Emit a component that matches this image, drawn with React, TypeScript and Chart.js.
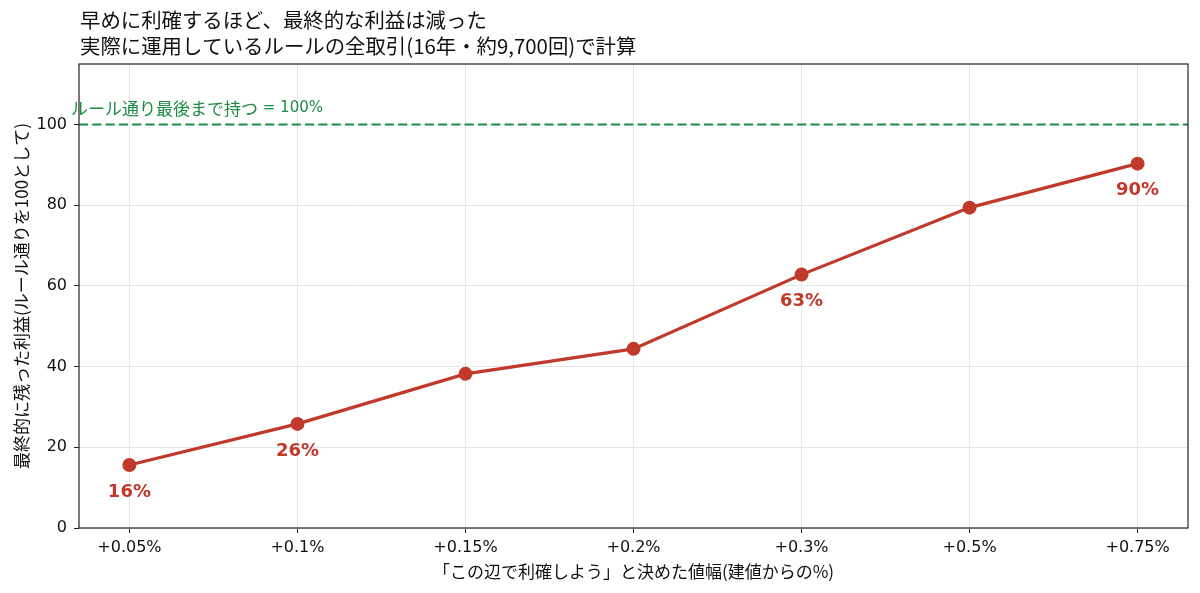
import React, { useEffect, useRef } from 'react';
import { Chart, registerables } from 'chart.js';

Chart.register(...registerables);

const FONT = '"DejaVu Sans", "Noto Sans CJK JP", sans-serif';
const CJK = '"Noto Sans CJK JP", "Noto Sans", sans-serif';

// データ
const takeProfitLabels = ['+0.05%', '+0.1%', '+0.15%', '+0.2%', '+0.3%', '+0.5%', '+0.75%'];
const remainingProfit = [15.6, 25.8, 38.2, 44.4, 62.8, 79.4, 90.3];
const labelledPoints = [0, 1, 4, 6];
const yTicks = [0, 20, 40, 60, 80, 100];
const baselineValue = 100;

const titleLines = [
  '早めに利確するほど、最終的な利益は減った',
  '実際に運用しているルールの全取引(16年・約9,700回)で計算',
];
const baselineText = ['ルール通り最後まで持つ', ' = 100%'];
const xTitle = '「この辺で利確しよう」と決めた値幅(建値からの%)';
const yTitle = '最終的に残った利益(ルール通りを100として)';

const RED = '#c0392b';
const GREEN = '#1e8b45';

const extras = {
  id: 'extras',
  beforeDatasetsDraw(chart: any) {
    const { ctx, chartArea, scales } = chart;
    const y = scales.y.getPixelForValue(baselineValue);
    ctx.save();
    ctx.strokeStyle = GREEN;
    ctx.lineWidth = 2.2;
    ctx.setLineDash([9, 4.3]);
    ctx.beginPath();
    ctx.moveTo(chartArea.left, y);
    ctx.lineTo(chartArea.right, y);
    ctx.stroke();
    ctx.setLineDash([]);
    // 基準線ラベル（和文と欧文でサイズが違う）
    ctx.fillStyle = GREEN;
    ctx.textAlign = 'left';
    ctx.textBaseline = 'middle';
    let x = chartArea.left - 8;
    ctx.font = `17px ${CJK}`;
    ctx.fillText(baselineText[0], x, y - 16);
    x += ctx.measureText(baselineText[0]).width;
    ctx.font = `15px ${FONT}`;
    ctx.fillText(baselineText[1], x, y - 16);
    ctx.restore();
  },
  afterDraw(chart: any) {
    const { ctx, chartArea, scales } = chart;
    ctx.save();
    // 枠
    ctx.strokeStyle = '#222';
    ctx.lineWidth = 1.2;
    ctx.strokeRect(chartArea.left, chartArea.top, chartArea.right - chartArea.left, chartArea.bottom - chartArea.top);
    // 値ラベル
    ctx.fillStyle = RED;
    ctx.font = `bold 18px ${FONT}`;
    ctx.textAlign = 'center';
    ctx.textBaseline = 'middle';
    labelledPoints.forEach((i) => {
      const px = scales.x.getPixelForValue(i);
      const py = scales.y.getPixelForValue(remainingProfit[i]);
      ctx.fillText(`${Math.round(remainingProfit[i])}%`, px, py + 27);
    });
    // タイトル
    ctx.fillStyle = '#111';
    ctx.font = `20.4px ${CJK}`;
    ctx.textAlign = 'left';
    titleLines.forEach((t, i) => ctx.fillText(t, 80, 20 + i * 26));
    ctx.restore();
  },
};

export default function App() {
  const canvasRef = useRef<HTMLCanvasElement>(null);

  useEffect(() => {
    document.body.style.margin = '0';
    const canvas = canvasRef.current;
    if (!canvas) return;
    const chart = new Chart(canvas, {
      type: 'line',
      data: {
        datasets: [{
          data: remainingProfit.map((v, i) => ({ x: i, y: v })),
          borderColor: RED,
          backgroundColor: RED,
          borderWidth: 3.2,
          pointRadius: 7,
          pointHoverRadius: 7,
          pointBorderWidth: 0,
        }],
      },
      options: {
        animation: false,
        responsive: false,
        layout: { padding: { top: 64, right: 12, left: 0, bottom: 0 } },
        plugins: { legend: { display: false }, tooltip: { enabled: false } },
        scales: {
          x: {
            type: 'linear',
            min: -0.3,
            max: 6.3,
            afterBuildTicks: (s: any) => { s.ticks = takeProfitLabels.map((_, i) => ({ value: i })); },
            afterFit: (s: any) => { s.height = 65; },
            ticks: {
              callback: (v: any) => takeProfitLabels[v] ?? '',
              color: '#111',
              font: { family: FONT, size: 16 },
              padding: 5,
              maxRotation: 0,
            },
            grid: { color: '#e6e6e6', tickColor: '#222', tickLength: 5 },
            border: { display: false },
            title: {
              display: true,
              text: xTitle,
              color: '#111',
              font: { family: CJK, size: 17 },
              padding: { top: 0, bottom: 11 },
            },
          },
          y: {
            min: 0,
            max: 115,
            afterBuildTicks: (s: any) => { s.ticks = yTicks.map((v) => ({ value: v })); },
            afterFit: (s: any) => { s.width = 79; },
            ticks: {
              color: '#111',
              font: { family: FONT, size: 16 },
              padding: 7,
            },
            grid: { color: '#e6e6e6', tickColor: '#222', tickLength: 5 },
            border: { display: false },
            title: {
              display: true,
              text: yTitle,
              color: '#111',
              font: { family: CJK, size: 17 },
              padding: { top: 11, bottom: 0 },
            },
          },
        },
      },
      plugins: [extras],
    });
    return () => chart.destroy();
  }, []);

  return <canvas ref={canvasRef} width={1200} height={593} style={{ display: 'block' }} />;
}
